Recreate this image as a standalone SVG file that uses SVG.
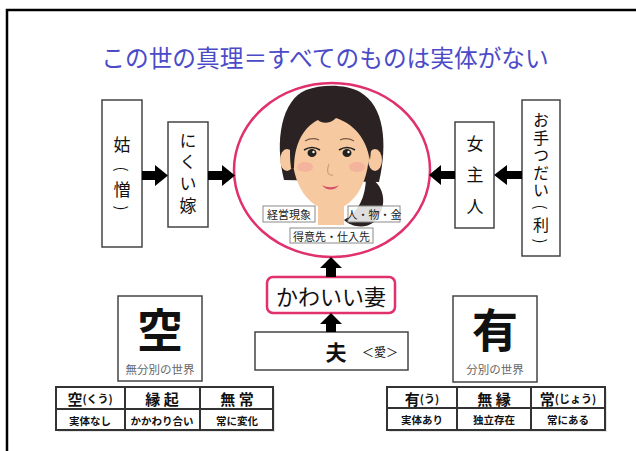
<svg xmlns="http://www.w3.org/2000/svg" width="636" height="451" viewBox="0 0 636 451">
  <style>
    text { font-family: "Noto Sans CJK JP", "Noto Sans", sans-serif; fill: #111; text-anchor: middle; dominant-baseline: central; }
    .title { font-size: 23.7px; fill: #4b4bc8; }
    .box { fill: #fff; stroke: #444; stroke-width: 1.5; }
    .vert { writing-mode: vertical-rl; }
    .vt { font-size: 17px; }
    .vs { font-size: 16px; }
    .par { font-size: 15px; }
    .arrow { fill: #000; }
    .ring { fill: #fff; stroke: #e0306e; stroke-width: 2.5; }
    .tag { fill: #fff; fill-opacity: 0.85; stroke: #8a8a8a; stroke-width: 1; }
    .tagt { font-size: 11px; fill: #222; }
    .big { font-size: 46px; font-weight: 700; }
    .sub { font-size: 11.5px; fill: #666; }
    .tbl { fill: #fff; stroke: #333; stroke-width: 2; }
    .tline { stroke: #333; stroke-width: 2; }
    .th { font-size: 15px; font-weight: 700; }
    .thk { font-size: 11px; font-weight: 700; }
    .td { font-size: 10.5px; font-weight: 700; }
    .skin { fill: #f7c9a0; }
    .hair { fill: #2b2323; }
  </style>

  <!-- frame lines -->
  <path d="M7,451 V10 H636" fill="none" stroke="#000" stroke-width="2.5"/>

  <text class="title" x="325" y="57">この世の真理＝すべてのものは実体がない</text>

  <!-- left chain -->
  <g id="node-shuutome">
    <rect class="box" x="102" y="100" width="40" height="147"/>
    <text class="vt" x="122" y="143">姑</text>
    <text class="par" transform="translate(122,169) rotate(90)">(</text>
    <text class="vt" x="122" y="188">憎</text>
    <text class="par" transform="translate(122,208) rotate(90)">)</text>
  </g>
  <g id="node-yome">
    <rect class="box" x="168" y="122" width="40" height="105"/>
    <text class="vt vert" x="188" y="175" letter-spacing="4.7">にくい嫁</text>
  </g>

  <!-- right chain -->
  <g id="node-onna-aruji">
    <rect class="box" x="455" y="122" width="39" height="106"/>
    <text class="vt vert" x="475" y="182" letter-spacing="14.5">女主人</text>
  </g>
  <g id="node-otetsudai">
    <rect class="box" x="522" y="100" width="38" height="156"/>
    <text class="vs vert" x="541" y="156" letter-spacing="1.5">お手つだい</text>
    <text class="par" transform="translate(541,207) rotate(90)">(</text>
    <text class="vs" x="541" y="224">利</text>
    <text class="par" transform="translate(541,241) rotate(90)">)</text>
  </g>

  <!-- central figure -->
  <g id="node-wife">
    <ellipse class="ring" cx="332" cy="170" rx="98" ry="87"/>
    <!-- hair back and ponytail -->
    <path class="hair" d="M284,180 C274,140 282,100 306,90 C322,84 346,84 360,92 C384,106 388,142 379,182 Z"/>
    <path class="hair" d="M366,176 C384,182 390,206 374,222 C364,230 350,226 344,220 C358,212 366,198 366,176 Z"/>
    <!-- ears, neck, face -->
    <ellipse class="skin" cx="287" cy="160" rx="7" ry="11"/>
    <ellipse class="skin" cx="375" cy="160" rx="7" ry="11"/>
    <rect class="skin" x="318" y="195" width="26" height="30"/>
    <path class="skin" d="M292,150 C292,118 310,108 331,108 C352,108 369,120 369,150 C369,186 352,208 331,211 C309,208 292,186 292,150 Z"/>
    <!-- bangs framing the forehead -->
    <path class="hair" d="M291,168 C286,125 302,98 331,96 C360,98 376,124 370,160 C366,138 354,124 336,118 C330,124 322,124 318,120 C302,128 294,146 294,168 Z"/>
    <!-- brows and eyes -->
    <path d="M305,141 Q312,137 319,140 M340,140 Q347,137 354,141" fill="none" stroke="#7a5a44" stroke-width="1.2"/>
    <ellipse cx="312" cy="153" rx="4.5" ry="4" fill="#222"/>
    <ellipse cx="347" cy="153" rx="4.5" ry="4" fill="#222"/>
    <path d="M304,150 Q312,145 320,150 M339,150 Q347,145 355,150" fill="none" stroke="#222" stroke-width="1.6"/>
    <circle cx="313.5" cy="152" r="1.2" fill="#fff"/>
    <circle cx="348.5" cy="152" r="1.2" fill="#fff"/>
    <!-- cheeks, nose, mouth -->
    <ellipse cx="305" cy="167" rx="8" ry="5" fill="#f0989a" opacity="0.45"/>
    <ellipse cx="357" cy="167" rx="8" ry="5" fill="#f0989a" opacity="0.45"/>
    <path d="M329,164 C326,172 328,176 333,175" fill="none" stroke="#d79a78" stroke-width="1.2"/>
    <path d="M322,185 C327,188 334,188 339,185 C335,191 326,191 322,185 Z" fill="#d4506a"/>
    <!-- tags -->
    <rect class="tag" x="263" y="206" width="52" height="16"/>
    <text class="tagt" x="289" y="214">経営現象</text>
    <rect class="tag" x="348" y="206" width="52" height="16"/>
    <text class="tagt" x="374" y="214">人・物・金</text>
    <rect class="tag" x="290" y="228" width="83" height="15"/>
    <text class="tagt" x="331.5" y="235.5">得意先・仕入先</text>
  </g>

  <g id="node-kawaii-tsuma">
    <rect x="267" y="277" width="128" height="36" rx="6" fill="#fff" stroke="#e0306e" stroke-width="2.5"/>
    <text x="331" y="295" font-size="22">かわいい妻</text>
  </g>

  <g id="node-otto">
    <rect class="box" x="255" y="332" width="153" height="38"/>
    <text x="336" y="351" font-size="21" font-weight="700">夫</text>
    <text x="380" y="351" font-size="12" fill="#555">＜愛＞</text>
  </g>

  <g id="node-kuu">
    <rect class="box" x="118" y="296" width="84" height="85"/>
    <text class="big" x="160" y="327">空</text>
    <text class="sub" x="160" y="369">無分別の世界</text>
  </g>

  <g id="node-u">
    <rect class="box" x="453" y="296" width="84" height="86"/>
    <text class="big" x="495" y="327">有</text>
    <text class="sub" x="495" y="369">分別の世界</text>
  </g>

  <!-- left table -->
  <g id="table-kuu">
    <rect x="58" y="389" width="217" height="43" fill="#ccc" opacity="0.5"/>
    <rect class="tbl" x="56" y="387" width="217" height="43"/>
    <line class="tline" x1="56" y1="409" x2="273" y2="409"/>
    <line class="tline" x1="125" y1="387" x2="125" y2="430"/>
    <line class="tline" x1="200" y1="387" x2="200" y2="430"/>
    <text x="90" y="398"><tspan class="th">空</tspan><tspan class="thk">(くう)</tspan></text>
    <text class="th" x="162" y="398">縁 起</text>
    <text class="th" x="237" y="398">無 常</text>
    <text class="td" x="90" y="420">実体なし</text>
    <text class="td" x="162" y="420">かかわり合い</text>
    <text class="td" x="237" y="420">常に変化</text>
  </g>

  <!-- right table -->
  <g id="table-u">
    <rect x="389" y="389" width="218" height="43" fill="#ccc" opacity="0.5"/>
    <rect class="tbl" x="387" y="387" width="218" height="43"/>
    <line class="tline" x1="387" y1="408" x2="605" y2="408"/>
    <line class="tline" x1="457" y1="387" x2="457" y2="430"/>
    <line class="tline" x1="531" y1="387" x2="531" y2="430"/>
    <text x="422" y="398"><tspan class="th">有</tspan><tspan class="thk">(う)</tspan></text>
    <text class="th" x="494" y="398">無 縁</text>
    <text x="568" y="398"><tspan class="th">常</tspan><tspan class="thk">(じょう)</tspan></text>
    <text class="td" x="422" y="419">実体あり</text>
    <text class="td" x="494" y="419">独立存在</text>
    <text class="td" x="568" y="419">常にある</text>
  </g>

  <!-- connectors: block arrows -->
  <g id="connectors">
    <path class="arrow" d="M142,171 H155 V165 L168,175.5 L155,186 V180 H142 Z"/>
    <path class="arrow" d="M208,171 H222 V165 L235,175.5 L222,186 V180 H208 Z"/>
    <path class="arrow" d="M522,171 H507 V165 L494,175 L507,185 V179 H522 Z"/>
    <path class="arrow" d="M455,171 H441 V165 L429,175 L441,185 V179 H455 Z"/>
    <path class="arrow" d="M326,277 V268 H320 L331,257 L342,268 H336 V277 Z"/>
    <path class="arrow" d="M326,332 V324 H320 L331,313 L342,324 H336 V332 Z"/>
  </g>
</svg>
